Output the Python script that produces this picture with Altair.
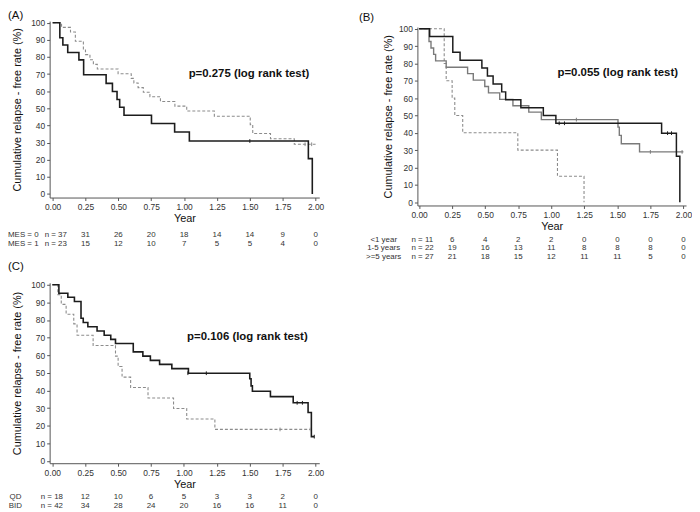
import altair as alt
import pandas as pd

FONT = "Liberation Sans"
TICKS = [0, 0.25, 0.5, 0.75, 1.0, 1.25, 1.5, 1.75, 2.0]
YTICKS = [0, 10, 20, 30, 40, 50, 60, 70, 80, 90, 100]

# ---------------- Panel A (MES) ----------------
A_mes0_t = [0, 0.068, 0.136, 0.173, 0.234, 0.25, 0.284, 0.31, 0.34, 0.498, 0.598, 0.618, 0.65, 0.69, 0.74,
            0.82, 0.93, 1.02, 1.23, 1.503, 1.522, 1.657, 1.838, 2.0]
A_mes0_s = [100, 97.3, 94.6, 89.2, 84.1, 81.4, 78.4, 75.7, 73.0, 70.2, 67.5, 64.8, 62.1, 59.4, 56.8,
            54.0, 51.3, 48.4, 45.4, 40.5, 35.3, 32.2, 29.0, 29.0]
A_mes1_t = [0, 0.055, 0.078, 0.115, 0.2, 0.236, 0.407, 0.455, 0.49, 0.51, 0.543, 0.752, 0.928, 1.04, 1.945, 1.975]
A_mes1_s = [100, 91.3, 87.0, 82.6, 78.3, 69.6, 64.6, 59.8, 55.2, 50.6, 46.0, 41.1, 36.2, 30.9, 20.6, 0]
A_cens0_t = [1.92, 1.97]
A_cens0_s = [29.0, 29.0]
A_cens1_t = [1.5]
A_cens1_s = [30.9]
A_risk_labels = ["MES = 0", "MES = 1"]
A_risk_mes0 = ["n = 37", "31", "26", "20", "18", "14", "14", "9", "0"]
A_risk_mes1 = ["n = 23", "15", "12", "10", "7", "5", "5", "4", "0"]
A_p = "p=0.275 (log rank test)"

# ---------------- Panel B (disease duration) ----------------
B_lt1_t = [0, 0.19, 0.205, 0.25, 0.27, 0.33, 0.747, 1.047, 1.248]
B_lt1_s = [100, 80, 70, 60, 50, 40, 30, 15, 0]
B_1to5_t = [0, 0.08, 0.255, 0.31, 0.475, 0.517, 0.56, 0.625, 0.655, 0.77, 0.94, 1.035, 1.835, 1.947, 1.973]
B_1to5_s = [100, 95.5, 86.4, 81.8, 77.3, 72.7, 68.2, 63.6, 59.1, 54.5, 50.0, 45.5, 39.8, 26.5, 0]
B_ge5_t = [0, 0.075, 0.09, 0.11, 0.125, 0.205, 0.367, 0.41, 0.497, 0.525, 0.61, 0.71, 0.83, 0.925,
           1.505, 1.515, 1.53, 1.668, 2.0]
B_ge5_s = [100, 92.6, 88.9, 85.2, 81.5, 77.8, 74.1, 70.4, 66.7, 63.0, 59.3, 55.6, 51.9, 47.6,
           43.3, 38.5, 33.7, 29.0, 29.0]
B_cens_1to5_t = [1.06, 1.1, 1.88, 1.91]
B_cens_1to5_s = [45.5, 45.5, 39.8, 39.8]
B_cens_ge5_t = [1.19, 1.75, 1.99]
B_cens_ge5_s = [47.6, 29.0, 29.0]
B_risk_labels = ["<1 year", "1-5 years", ">=5 years"]
B_risk_lt1 = ["n = 11", "6", "4", "2", "2", "0", "0", "0", "0"]
B_risk_1to5 = ["n = 22", "19", "16", "13", "11", "8", "8", "8", "0"]
B_risk_ge5 = ["n = 27", "21", "18", "15", "12", "11", "11", "5", "0"]
B_p = "p=0.055 (log rank test)"

# ---------------- Panel C (QD vs BID) ----------------
C_qd_t = [0, 0.042, 0.068, 0.105, 0.163, 0.188, 0.31, 0.48, 0.5, 0.53, 0.595, 0.727, 0.921, 1.021, 1.235, 1.97]
C_qd_s = [100, 94.4, 88.9, 83.3, 77.8, 71.4, 65.5, 59.5, 53.6, 47.6, 41.7, 35.7, 29.8, 23.8, 17.9, 17.9]
C_bid_t = [0, 0.05, 0.118, 0.168, 0.218, 0.235, 0.27, 0.34, 0.394, 0.444, 0.48, 0.615, 0.688, 0.745, 0.815,
           0.908, 1.034, 1.5, 1.51, 1.52, 1.657, 1.83, 1.943, 1.968, 1.99]
C_bid_s = [100, 95.2, 92.9, 90.5, 81.0, 78.6, 76.2, 73.8, 71.4, 69.0, 66.7, 61.9, 59.5, 57.1, 54.8,
           52.4, 49.8, 46.7, 42.6, 39.6, 36.5, 33.0, 27.5, 13.8, 13.8]
C_cens_qd_t = [1.73, 1.96]
C_cens_qd_s = [17.9, 17.9]
C_cens_bid_t = [1.03, 1.17, 1.86, 1.9, 1.99]
C_cens_bid_s = [49.8, 49.8, 33.0, 33.0, 13.8]
C_risk_labels = ["QD", "BID"]
C_risk_qd = ["n = 18", "12", "10", "6", "5", "3", "3", "2", "0"]
C_risk_bid = ["n = 42", "34", "28", "24", "20", "16", "16", "11", "0"]
C_p = "p=0.106 (log rank test)"

BLACK = "#1c1c1c"
GRAY = "#7a7a7a"
DGRAY = "#8c8c8c"
RFS = 8  # risk table font size


def panel(series, censors, risk_rows, row_labels, row_ys, row_x, row_align, n_x, ptext, ppos,
          label, label_pos, width, height, xdom, ydom, yrange, ytitle_pad):
    xs = alt.Scale(domain=xdom, nice=False, zero=False)
    ys = alt.Scale(domain=ydom, nice=False, zero=False, range=yrange) if yrange else \
        alt.Scale(domain=ydom, nice=False, zero=False)
    xa = alt.Axis(values=TICKS, format=".2f", title="Year", labelFontSize=8.5, titleFontSize=11,
                  titleFontWeight="normal", tickSize=3, labelPadding=2, titlePadding=2, grid=False,
                  labelFlush=False, labelOverlap=False, domainColor="#555", tickColor="#555",
                  labelColor="#333", titleColor="#111", labelFont=FONT, titleFont=FONT)
    ya = alt.Axis(values=YTICKS, title="Cumulative relapse - free rate (%)", labelFontSize=8.5,
                  titleFontSize=11, titleFontWeight="normal", tickSize=3, labelPadding=2,
                  titlePadding=ytitle_pad, grid=False, labelOverlap=False, domainColor="#555",
                  tickColor="#555", labelColor="#333", titleColor="#111", labelFont=FONT, titleFont=FONT)
    X = alt.X("t:Q", scale=xs, axis=xa)
    Y = alt.Y("s:Q", scale=ys, axis=ya)
    layers = []
    for t, s, color, dash, sw in series:
        df = pd.DataFrame({"t": t, "s": s})
        mk = dict(interpolate="step-after", color=color, strokeWidth=sw)
        if dash:
            mk["strokeDash"] = dash
        layers.append(alt.Chart(df).mark_line(**mk).encode(x=X, y=Y))
    for t, s, color in censors:
        df = pd.DataFrame({"t": t, "s": s})
        layers.append(alt.Chart(df).mark_point(shape="M0,-1L0,1", size=14, filled=False,
                                               stroke=color, strokeWidth=1, opacity=1)
                      .encode(x=X, y=Y))
    # p-value annotation
    pdf = pd.DataFrame({"t": [ppos[0]], "s": [ppos[1]], "txt": [ptext]})
    layers.append(alt.Chart(pdf).mark_text(font=FONT, fontSize=11.5, fontWeight="bold", color="#111")
                  .encode(x=X, y=Y, text="txt:N"))
    # risk table
    for vals, lab, yy in zip(risk_rows, row_labels, row_ys):
        rdf = pd.DataFrame({"t": TICKS[1:], "v": vals[1:]})
        layers.append(alt.Chart(rdf).mark_text(font=FONT, fontSize=RFS, color="#333", baseline="middle")
                      .encode(x=X, y=alt.value(yy), text="v:N"))
        ndf = pd.DataFrame({"v": [vals[0]]})
        layers.append(alt.Chart(ndf).mark_text(font=FONT, fontSize=RFS, color="#333", baseline="middle",
                                               align="left")
                      .encode(x=alt.value(n_x), y=alt.value(yy), text="v:N"))
        ldf = pd.DataFrame({"lab": [lab]})
        layers.append(alt.Chart(ldf).mark_text(font=FONT, fontSize=RFS, color="#333", baseline="middle",
                                               align=row_align)
                      .encode(x=alt.value(row_x), y=alt.value(yy), text="lab:N"))
    # panel label
    pl = pd.DataFrame({"lab": [label]})
    layers.append(alt.Chart(pl).mark_text(font=FONT, fontSize=11.5, color="#111", baseline="top",
                                          align="left")
                  .encode(x=alt.value(label_pos[0]), y=alt.value(label_pos[1]), text="lab:N"))
    return alt.layer(*layers).properties(width=width, height=height)


panelA = panel(
    series=[(A_mes0_t, A_mes0_s, DGRAY, [3, 2], 1.1), (A_mes1_t, A_mes1_s, BLACK, None, 1.6)],
    censors=[(A_cens0_t, A_cens0_s, DGRAY), (A_cens1_t, A_cens1_s, BLACK)],
    risk_rows=[A_risk_mes0, A_risk_mes1], row_labels=A_risk_labels, row_ys=[216, 225],
    row_x=-42, row_align="left", n_x=-5, ptext=A_p, ppos=(1.493, 70.3), label="(A)", label_pos=(-42, -11),
    width=272, height=178, xdom=[-0.0226, 2.028], ydom=[-2.14, 100.99], yrange=None, ytitle_pad=8.5)

panelB = panel(
    series=[(B_lt1_t, B_lt1_s, DGRAY, [3, 2], 1.1), (B_ge5_t, B_ge5_s, GRAY, None, 1.4),
            (B_1to5_t, B_1to5_s, BLACK, None, 1.5)],
    censors=[(B_cens_1to5_t, B_cens_1to5_s, BLACK), (B_cens_ge5_t, B_cens_ge5_s, GRAY)],
    risk_rows=[B_risk_lt1, B_risk_1to5, B_risk_ge5], row_labels=B_risk_labels,
    row_ys=[220.5, 229, 237.5],
    row_x=-34, row_align="center", n_x=-6, ptext=B_p, ppos=(1.503, 74.3), label="(B)", label_pos=(-59, -9),
    width=271, height=186, xdom=[-0.0128, 2.020], ydom=[-1.886, 100.97], yrange=[186, 6], ytitle_pad=5)

panelC = panel(
    series=[(C_qd_t, C_qd_s, DGRAY, [3, 2], 1.1), (C_bid_t, C_bid_s, BLACK, None, 1.6)],
    censors=[(C_cens_qd_t, C_cens_qd_s, DGRAY), (C_cens_bid_t, C_cens_bid_s, BLACK)],
    risk_rows=[C_risk_qd, C_risk_bid], row_labels=C_risk_labels, row_ys=[216.5, 225],
    row_x=-34.5, row_align="center", n_x=-9, ptext=C_p, ppos=(1.482, 70.2), label="(C)", label_pos=(-42, -22),
    width=272, height=182, xdom=[-0.0203, 2.028], ydom=[-1.29, 101.13], yrange=None, ytitle_pad=8.5)

chart = alt.concat(panelA, panelB, panelC, columns=2, spacing={"row": 78, "column": 99},
                   bounds="flush", align="all").properties(padding=0).configure_view(stroke=None)

chart.save("out.html", embed_options={"renderer": "svg", "actions": False})
